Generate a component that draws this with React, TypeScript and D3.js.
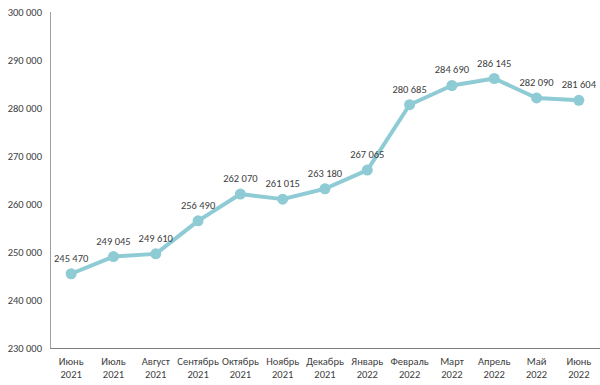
import React, { useEffect, useRef } from 'react';
import * as d3 from 'd3';

const months = ['Июнь', 'Июль', 'Август', 'Сентябрь', 'Октябрь', 'Ноябрь', 'Декабрь', 'Январь', 'Февраль', 'Март', 'Апрель', 'Май', 'Июнь'];
const years = ['2021', '2021', '2021', '2021', '2021', '2021', '2021', '2022', '2022', '2022', '2022', '2022', '2022'];
const values = [245470, 249045, 249610, 256490, 262070, 261015, 263180, 267065, 280685, 284690, 286145, 282090, 281604];
const yTicks = [230000, 240000, 250000, 260000, 270000, 280000, 290000, 300000];

const fmt = (v: number) => d3.format(',')(v).replace(/,/g, ' ');

const App = () => {
  const svgRef = useRef<SVGSVGElement>(null);

  useEffect(() => {
    const svg = d3.select(svgRef.current);
    svg.selectAll('*').remove();

    const width = 600;
    const height = 385;
    const left = 50;
    const right = 600;
    const top = 12;
    const bottom = 348;
    const font = 'Carlito, Calibri, "Liberation Sans", Arial, sans-serif';
    const textColor = '#404040';
    const fs = 10.5;

    const keys = months.map((m, i) => i);
    const x = d3.scaleBand<number>().domain(keys).range([left, right]);
    const y = d3.scaleLinear().domain([230000, 300000]).range([bottom, top]);

    svg.attr('width', width).attr('height', height);

    // y tick labels
    svg.append('g')
      .selectAll('text')
      .data(yTicks)
      .join('text')
      .attr('x', left - 8)
      .attr('y', d => y(d))
      .attr('dy', '0.35em')
      .attr('text-anchor', 'end')
      .attr('font-family', font)
      .attr('font-size', fs)
      .attr('fill', textColor)
      .text(d => fmt(d));

    // axes lines
    svg.append('line')
      .attr('x1', left + 0.5).attr('x2', left + 0.5)
      .attr('y1', top).attr('y2', bottom)
      .attr('stroke', '#a0a0a0').attr('stroke-width', 1);
    svg.append('line')
      .attr('x1', left).attr('x2', right)
      .attr('y1', bottom + 0.5).attr('y2', bottom + 0.5)
      .attr('stroke', '#808080').attr('stroke-width', 1);

    // category labels
    const cat = svg.append('g')
      .selectAll('text')
      .data(keys)
      .join('text')
      .attr('text-anchor', 'middle')
      .attr('font-family', font)
      .attr('font-size', fs)
      .attr('fill', textColor);
    cat.append('tspan')
      .attr('x', d => x(d)! + x.bandwidth() / 2)
      .attr('y', bottom + 17)
      .text(d => months[d]);
    cat.append('tspan')
      .attr('x', d => x(d)! + x.bandwidth() / 2)
      .attr('y', bottom + 30)
      .text(d => years[d]);

    const cx = (i: number) => x(i)! + x.bandwidth() / 2;
    const color = '#8ecbd4';

    const line = d3.line<number>()
      .x((d, i) => cx(i))
      .y(d => y(d));

    svg.append('path')
      .datum(values)
      .attr('d', line)
      .attr('fill', 'none')
      .attr('stroke', color)
      .attr('stroke-width', 4)
      .attr('stroke-linejoin', 'round');

    svg.append('g')
      .selectAll('circle')
      .data(values)
      .join('circle')
      .attr('cx', (d, i) => cx(i))
      .attr('cy', d => y(d))
      .attr('r', 5.5)
      .attr('fill', color);

    svg.append('g')
      .selectAll('text')
      .data(values)
      .join('text')
      .attr('x', (d, i) => cx(i))
      .attr('y', d => y(d) - 12)
      .attr('text-anchor', 'middle')
      .attr('font-family', font)
      .attr('font-size', fs)
      .attr('fill', textColor)
      .text(d => fmt(d));
  }, []);

  return <svg ref={svgRef} style={{ position: 'absolute', left: 0, top: 0 }} />;
};

export default App;
